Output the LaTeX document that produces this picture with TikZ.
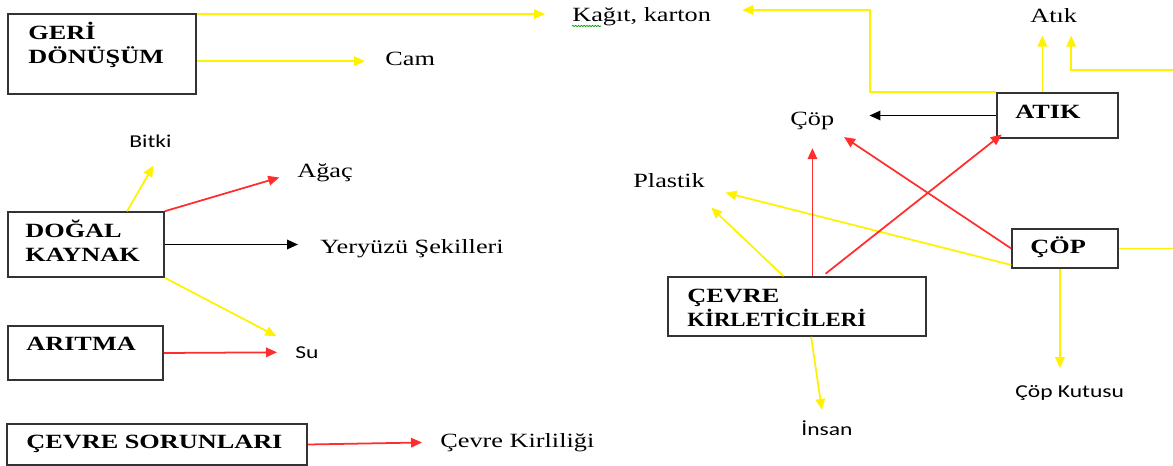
\documentclass[tikz,border=0pt]{standalone}
\usepackage{fontspec}
\setmainfont{Liberation Serif}
\newfontfamily\calibri{Carlito}
\usepackage{graphicx}
\usepackage{tikz}
\usetikzlibrary{arrows.meta,calc,decorations.pathmorphing}
\newcommand\wide[2][1.3]{\scalebox{#1}[1]{#2}}
\definecolor{lred}{RGB}{255,45,45}

\tikzset{
	box/.style={draw=black!80, line width=0.9pt, inner sep=0pt},
	word/.style={inner sep=0pt, anchor=base west, font=\fontsize{11.5}{13.6}\selectfont},
	bword/.style={word, font=\fontsize{11.5}{13.6}\selectfont\bfseries},
	sword/.style={word, font=\calibri\fontsize{10.3}{12}\selectfont},
	link/.style={line width=1pt},
	arrowed/.style={link, -{Triangle[length=0.22cm, width=0.19cm]}},
	yline/.style={link, draw=yellow},
	yarrow/.style={arrowed, draw=yellow},
	rarrow/.style={arrowed, draw=lred},
	karrow/.style={arrowed, draw=black},
	squiggle/.style={draw=green!60!black, line width=0.4pt, decorate, decoration={snake, amplitude=0.35pt, segment length=1.6pt}}
}

\begin{document}
\begin{tikzpicture}[x=0.02cm, y=-0.02cm]
			%%%%% START %%%%%
			\useasboundingbox (0, 0) rectangle (1173, 466);

			% left column boxes
			\node[box, minimum width=3.76cm, minimum height=1.6cm] (geri) at (102, 54) {};
			\node[bword] (geri1) at (28, 40) {\wide{GERİ}};
			\node[bword] (geri2) at (28, 64) {\wide{DÖNÜŞÜM}};

			\node[box, minimum width=3.12cm, minimum height=1.3cm] (dogal) at (86, 244.5) {};
			\node[bword] (dogal1) at (25, 237) {\wide{DOĞAL}};
			\node[bword] (dogal2) at (25, 261) {\wide{KAYNAK}};

			\node[box, minimum width=3.1cm, minimum height=1.08cm] (aritma) at (85.5, 353) {};
			\node[bword] (aritmat) at (26, 350) {\wide{ARITMA}};

			\node[box, minimum width=6cm, minimum height=0.82cm] (sorun) at (157, 444.5) {};
			\node[bword] (sorunt) at (26, 448) {\wide{ÇEVRE SORUNLARI}};

			% right side boxes
			\node[box, minimum width=2.42cm, minimum height=0.9cm] (atikbox) at (1057.5, 115.5) {};
			\node[bword] (atikt) at (1015, 118) {\wide{ATIK}};

			\node[box, minimum width=2.12cm, minimum height=0.78cm] (copbox) at (1065, 248.5) {};
			\node[bword] (copt) at (1030, 253) {\wide{ÇÖP}};

			\node[box, minimum width=5.16cm, minimum height=1.18cm] (kirlet) at (797, 306.5) {};
			\node[bword] (kirlet1) at (687, 302) {\wide{ÇEVRE}};
			\node[bword] (kirlet2) at (687, 326) {\wide[1.13]{KİRLETİCİLERİ}};

			% loose words
			\node[word] (kagit) at (572, 22) {\wide{Kağıt, karton}};
			\node[word] (cam) at (385, 66) {\wide{Cam}};
			\node[sword] (bitki) at (129, 148) {\wide{Bitki}};
			\node[word] (agac) at (297, 177) {\wide{Ağaç}};
			\node[word] (yer) at (320, 253) {\wide{Yeryüzü Şekilleri}};
			\node[sword] (su) at (295, 358) {\wide{Su}};
			\node[word] (kirlilik) at (440, 447) {\wide{Çevre Kirliliği}};
			\node[word] (atik) at (1030, 23) {\wide{Atık}};
			\node[word] (cop) at (790, 126) {\wide{Çöp}};
			\node[word] (plastik) at (633, 187) {\wide{Plastik}};
			\node[sword] (insan) at (801, 435) {\wide{İnsan}};
			\node[sword] (kutu) at (1015, 397) {\wide{Çöp Kutusu}};

			\draw[squiggle] ($(kagit.base west)+(0, 4)$) -- ($(kagit.base west)+(29, 4)$);

			\coordinate (rim1) at (1173, 70);
			\coordinate (rim2) at (1173, 250);
			\coordinate (bend) at (870, 10);

			% yellow links
			\draw[yarrow, shorten >=0.54cm] ([yshift=-0.5pt]geri.north east) -- ([yshift=-0.5pt]geri.north east -| kagit.west);
			\draw[yarrow, shorten >=0.4cm] ([yshift=-1pt]geri.east |- cam.west) -- ([yshift=-1pt]cam.west);
			\draw[yarrow] (dogal.39) -- ($(bitki.south)+(3, 17)$);
			\draw[yarrow, shorten >=0.42cm] (dogal.south east) -- (su.north west);
			\draw[yarrow, shorten >=0.24cm] (atikbox.123) -- (atikbox.123 |- atik.south);
			\draw[yarrow, shorten >=0.24cm] (rim1) -| ($(atik.south)+(17.5, 0)$);
			\draw[yarrow, shorten >=0.62cm] (atikbox.north west) -| (bend) -- (bend -| kagit.east);
			\draw[yline] (copbox.east) -- (copbox.east -| rim2);
			\draw[yarrow, shorten >=0.33cm] (copbox.256) -- (copbox.256 |- kutu.north);
			\draw[yarrow, shorten >=0.42cm] (copbox.197) -- (plastik.south east);
			\draw[yarrow] (kirlet.114) -- ($(plastik.south east)+(6, 20)$);
			\draw[yarrow] (kirlet.-65) -- ($(insan.north)+(-5, -10)$);

			% red links
			\draw[rarrow, shorten >=0.37cm] (dogal.north east) -- (agac.west);
			\draw[rarrow, shorten >=0.36cm] (aritma.east) -- (su.west);
			\draw[rarrow, shorten >=0.36cm] (sorun.east) -- (kirlilik.west);
			\draw[rarrow, shorten >=0.35cm] (kirlet.63) -- (kirlet.63 |- cop.south);
			\draw[rarrow, shorten <=0.08cm, shorten >=-0.14cm] (kirlet.50) -- (atikbox.south west);
			\draw[rarrow, shorten >=0.23cm] (copbox.west) -- (cop.south east);

			% black links
			\draw[karrow, shorten >=0.7cm] (atikbox.west) -- (atikbox.west -| cop.east);
			\draw[karrow, shorten >=0.44cm] (dogal.east) -- (dogal.east -| yer.west);

			%%%%% END %%%%%
\end{tikzpicture}
\end{document}
